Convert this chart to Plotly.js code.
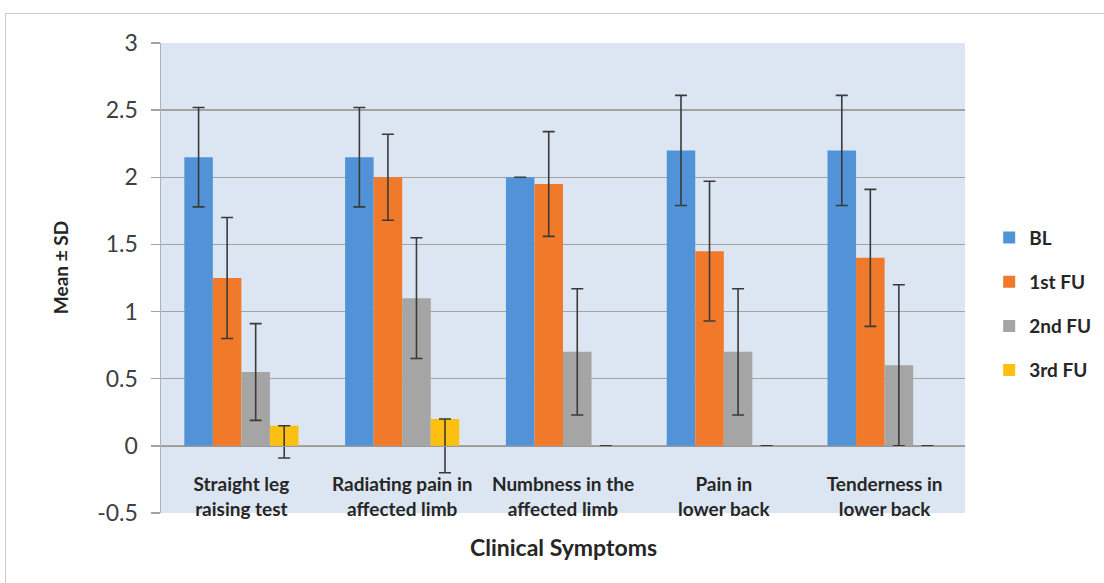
<!DOCTYPE html>
<html>
<head>
<meta charset="utf-8">
<script src="https://cdn.plot.ly/plotly-3.0.1.min.js"></script>
<style>
  html, body { margin: 0; padding: 0; background: #fff; }
  #wrap { position: relative; width: 1104px; height: 583px; overflow: hidden; }
  #frame { position: absolute; left: 5px; top: 13px; width: 1110px; height: 600px; border: 1.5px solid #c8c8c8; box-sizing: border-box; }
  #chart { position: absolute; left: 0; top: 0; width: 1104px; height: 583px; }
</style>
</head>
<body>
<div id="wrap">
  <div id="frame"></div>
  <div id="chart"></div>
</div>
<script>
const categories = [
  "Straight leg<br>raising test",
  "Radiating pain in<br>affected limb",
  "Numbness in the<br>affected limb",
  "Pain in<br>lower back",
  "Tenderness in<br>lower back"
];
const seriesNames = ["BL", "1st FU", "2nd FU", "3rd FU"];
const BL      = [2.15, 2.15, 2.00, 2.20, 2.20];
const FU1     = [1.25, 2.00, 1.95, 1.45, 1.40];
const FU2     = [0.55, 1.10, 0.70, 0.70, 0.60];
const FU3     = [0.15, 0.20, 0.00, 0.00, 0.00];
const BL_sd   = [0.37, 0.37, 0.00, 0.41, 0.41];
const FU1_sd  = [0.45, 0.32, 0.39, 0.52, 0.51];
const FU2_sd  = [0.36, 0.45, 0.47, 0.47, 0.60];
const FU3_sdPlus  = [0.00, 0.00, 0.00, 0.00, 0.00];
const FU3_sdMinus = [0.24, 0.40, 0.00, 0.00, 0.00];
const yTickVals = [-0.5, 0, 0.5, 1, 1.5, 2, 2.5, 3];
const yTickText = ["-0.5", "0", "0.5", "1", "1.5", "2", "2.5", "3"];

const colors = ["#5193d6", "#f07a2a", "#a5a5a5", "#fcc012"];
const errStyle = { color: "#3a3a3a", thickness: 1.6, width: 6 };

function mk(name, y, color, errPlus, errMinus) {
  return {
    type: "bar", name: name, x: categories, y: y,
    legendgroup: name,
    marker: { color: color, line: { width: 0 } },
    error_y: Object.assign({ type: "data", symmetric: errMinus === undefined, array: errPlus,
                             arrayminus: errMinus === undefined ? errPlus : errMinus, visible: true }, errStyle)
  };
}

const data = [
  mk(seriesNames[0], BL, colors[0], BL_sd),
  mk(seriesNames[1], FU1, colors[1], FU1_sd),
  mk(seriesNames[2], FU2, colors[2], FU2_sd),
  mk(seriesNames[3], FU3, colors[3], FU3_sdPlus, FU3_sdMinus)
];

const font = "Lato, 'Open Sans', 'Liberation Sans', sans-serif";
const layout = {
  width: 1104, height: 583,
  margin: { l: 161, r: 139, t: 43, b: 70 },
  paper_bgcolor: "rgba(0,0,0,0)",
  plot_bgcolor: "#dce6f2",
  barmode: "group",
  bargap: 0.29,
  bargroupgap: 0,
  font: { family: font, color: "#262626" },
  showlegend: true,
  legend: {
    xref: "container", yref: "container",
    x: 0.896, y: 0.625, xanchor: "left", yanchor: "top",
    font: { family: font, size: 19, color: "#262626", weight: "bold" },
    tracegroupgap: 16.5, itemwidth: 30, bgcolor: "rgba(0,0,0,0)"
  },
  xaxis: {
    type: "category",
    anchor: "free", position: 0.142857,
    showline: true, linecolor: "#9a9a9a", linewidth: 1.5,
    showgrid: false, ticks: "",
    tickfont: { family: font, size: 19, color: "#262626", weight: "bold" },
    ticklabelstandoff: 21
  },
  yaxis: {
    range: [-0.5, 3], tickvals: yTickVals, ticktext: yTickText,
    showgrid: true, gridcolor: "#a3a3a3", gridwidth: 1.5,
    zeroline: false,
    showline: true, linecolor: "#a8b4c4", linewidth: 1.5,
    ticks: "outside", ticklen: 9, tickcolor: "#a3a3a3", tickwidth: 1.5,
    tickfont: { family: font, size: 23, color: "#404040" },
    ticklabelstandoff: 8
  },
  annotations: [
    { text: "Clinical Symptoms", xref: "paper", yref: "paper", x: 0.5, y: -0.038,
      xanchor: "center", yanchor: "top", showarrow: false,
      font: { family: font, size: 23, color: "#262626", weight: "bold" } },
    { text: "Mean ± SD", xref: "paper", yref: "paper", x: -0.1256, y: 0.521,
      xanchor: "center", yanchor: "middle", showarrow: false, textangle: -90,
      font: { family: font, size: 19, color: "#262626", weight: "bold" } }
  ]
};

Plotly.newPlot("chart", data, layout, { displayModeBar: false, staticPlot: true });
</script>
</body>
</html>
